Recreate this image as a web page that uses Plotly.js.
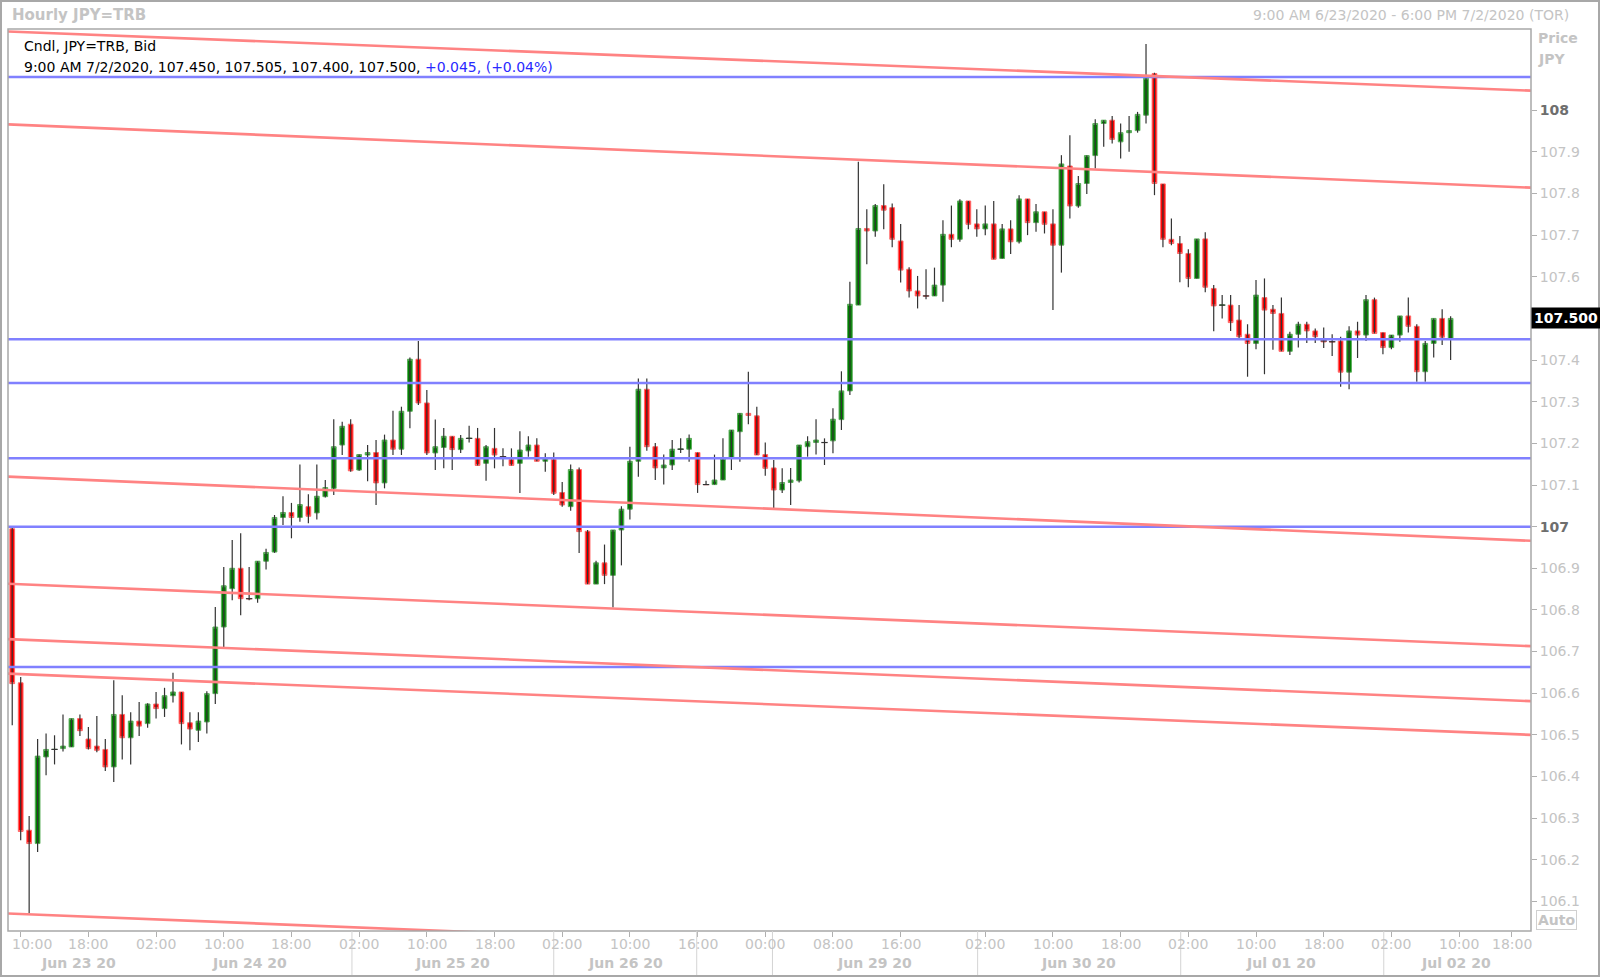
<!DOCTYPE html>
<html><head><meta charset="utf-8">
<script src="https://cdn.plot.ly/plotly-3.0.1.min.js"></script>
<style>html,body{margin:0;padding:0;background:#fff;}#chart{width:1600px;height:978px;}</style>
</head><body><div id="chart"></div>
<script>
// ---- Data (hourly JPY=TRB bid candles, 9:00 AM 6/23/2020 .. 9:00 AM 7/2/2020) ----
const openP = [106.995,106.625,106.271,106.239,106.447,106.465,106.467,106.471,106.539,106.490,
106.473,106.465,106.423,106.549,106.493,106.533,106.527,106.574,106.563,106.594,
106.603,106.529,106.511,106.531,106.599,106.759,106.851,106.900,106.827,106.827,
106.917,106.939,107.022,107.034,107.022,107.048,107.033,107.072,107.092,107.196,
107.246,107.136,107.172,107.178,107.105,107.208,107.186,107.277,107.402,107.297,
107.177,107.190,107.217,107.185,107.212,107.212,107.152,107.188,107.168,107.161,
107.152,107.182,107.196,107.157,107.161,107.082,107.048,107.137,106.989,106.862,
106.913,106.883,106.992,107.042,107.157,107.330,107.192,107.141,107.148,107.186,
107.186,107.178,107.101,107.101,107.112,107.164,107.228,107.272,107.266,107.173,
107.141,107.088,107.106,107.110,107.192,107.202,107.202,107.206,107.257,107.326,
107.532,107.716,107.710,107.771,107.766,107.686,107.618,107.566,107.554,107.554,
107.580,107.702,107.690,107.782,107.727,107.715,107.727,107.644,107.715,107.684,
107.787,107.730,107.756,107.727,107.676,107.866,107.770,107.824,107.891,107.968,
107.976,107.924,107.946,107.951,107.988,108.088,107.823,107.690,107.680,107.656,
107.596,107.691,107.572,107.532,107.532,107.496,107.462,107.440,107.550,107.522,
107.512,107.421,107.462,107.486,107.470,107.446,107.444,107.446,107.371,107.470,
107.460,107.545,107.466,107.430,107.460,107.506,107.481,107.372,107.440,107.500,
107.450];
const highP = [107.000,106.639,106.305,106.490,106.503,106.499,106.549,106.539,106.549,106.519,
106.545,106.490,106.631,106.595,106.554,106.579,106.576,106.603,106.613,106.649,
106.603,106.554,106.554,106.605,106.807,106.903,106.968,106.984,106.903,106.917,
106.947,107.028,107.073,107.057,107.149,107.078,107.149,107.112,107.258,107.252,
107.258,107.173,107.196,107.208,107.221,107.278,107.288,107.406,107.446,107.328,
107.257,107.237,107.217,107.220,107.242,107.237,107.196,107.237,107.188,107.188,
107.229,107.217,107.212,107.176,107.178,107.107,107.149,107.142,106.992,106.918,
106.957,106.992,107.049,107.192,107.356,107.356,107.201,107.173,107.208,107.212,
107.221,107.178,107.110,107.173,107.212,107.232,107.272,107.372,107.288,107.202,
107.160,107.140,107.141,107.196,107.217,107.258,107.212,107.284,107.373,107.588,
107.876,107.762,107.775,107.822,107.776,107.727,107.623,107.602,107.618,107.622,
107.736,107.771,107.786,107.782,107.762,107.771,107.782,107.727,107.736,107.796,
107.787,107.775,107.756,107.762,107.892,107.940,107.842,107.891,107.978,107.976,
107.986,107.968,107.986,107.996,108.159,108.090,107.823,107.740,107.698,107.666,
107.691,107.707,107.580,107.556,107.556,107.532,107.486,107.592,107.596,107.532,
107.550,107.468,107.492,107.492,107.476,107.478,107.462,107.456,107.481,107.492,
107.556,107.550,107.466,107.460,107.506,107.550,107.486,107.446,107.500,107.522,
107.505];
const lowP = [106.523,106.247,106.071,106.219,106.403,106.429,106.460,106.471,106.497,106.465,
106.458,106.413,106.387,106.441,106.429,106.497,106.517,106.539,106.543,106.578,
106.477,106.463,106.483,106.503,106.574,106.711,106.823,106.787,106.823,106.817,
106.897,106.937,107.004,106.972,107.012,107.008,107.017,107.070,107.076,107.172,
107.132,107.134,107.109,107.052,107.092,107.172,107.172,107.236,107.292,107.172,
107.136,107.140,107.136,107.177,107.202,107.147,107.110,107.140,107.145,107.147,
107.081,107.168,107.157,107.132,107.076,107.048,107.038,106.937,106.862,106.862,
106.862,106.806,106.907,107.017,107.120,107.182,107.112,107.101,107.136,107.177,
107.156,107.081,107.100,107.101,107.112,107.136,107.156,107.246,107.172,107.122,
107.044,107.081,107.052,107.106,107.168,107.173,107.148,107.176,107.232,107.316,
107.532,107.630,107.696,107.714,107.671,107.586,107.550,107.524,107.546,107.554,
107.540,107.671,107.684,107.714,107.696,107.700,107.642,107.644,107.655,107.680,
107.700,107.708,107.704,107.520,107.610,107.740,107.766,107.799,107.860,107.912,
107.920,107.884,107.900,107.946,107.968,107.796,107.671,107.676,107.587,107.575,
107.596,107.563,107.469,107.500,107.470,107.452,107.360,107.426,107.366,107.425,
107.421,107.412,107.430,107.441,107.441,107.429,107.410,107.336,107.330,107.405,
107.446,107.464,107.414,107.426,107.444,107.466,107.348,107.348,107.406,107.436,
107.400];
const closeP = [106.623,106.268,106.239,106.449,106.465,106.465,106.473,106.539,106.510,106.467,
106.463,106.423,106.549,106.493,106.533,106.521,106.574,106.563,106.594,106.603,
106.527,106.514,106.533,106.599,106.759,106.858,106.900,106.827,106.827,106.917,
106.938,107.022,107.034,107.022,107.053,107.025,107.073,107.094,107.192,107.241,
107.134,107.173,107.178,107.105,107.208,107.186,107.277,107.402,107.297,107.177,
107.192,107.217,107.185,107.212,107.212,107.147,107.192,107.172,107.168,107.147,
107.184,107.196,107.157,107.165,107.080,107.052,107.137,106.988,106.862,106.913,
106.883,106.992,107.042,107.157,107.330,107.192,107.141,107.148,107.186,107.186,
107.212,107.101,107.101,107.112,107.164,107.232,107.272,107.267,107.172,107.140,
107.088,107.106,107.112,107.196,107.204,107.208,107.202,107.258,107.326,107.534,
107.716,107.710,107.771,107.760,107.690,107.616,107.566,107.554,107.554,107.580,
107.702,107.690,107.782,107.726,107.715,107.727,107.642,107.715,107.684,107.787,
107.730,107.756,107.726,107.676,107.871,107.770,107.824,107.891,107.968,107.976,
107.930,107.946,107.951,107.990,108.077,107.824,107.690,107.680,107.656,107.596,
107.691,107.575,107.530,107.532,107.490,107.456,107.440,107.556,107.520,107.512,
107.421,107.462,107.486,107.470,107.456,107.444,107.444,107.371,107.470,107.460,
107.545,107.464,107.430,107.460,107.506,107.481,107.372,107.440,107.500,107.455,
107.500];

// horizontal support/resistance levels (blue) and parallel trend lines (red): start/end prices
const hLevels = [108.080, 107.450, 107.345, 107.164, 107.000, 106.663];
const trendStart = [108.189, 107.966, 107.120, 106.863, 106.730, 106.647, 106.071];
const trendEnd   = [108.047, 107.814, 106.966, 106.713, 106.581, 106.500, 105.925];

// time-axis labels (bar index -> label)
const tickIdx = [1, 9, 17, 25, 33, 41, 49, 57, 65, 73, 81, 89, 97, 105, 115, 123, 131, 139, 147, 155, 163, 171, 177.2];
const tickLbl = ["10:00","18:00","02:00","10:00","18:00","02:00","10:00","18:00","02:00","10:00","16:00",
                 "00:00","08:00","16:00","02:00","10:00","18:00","02:00","10:00","18:00","02:00","10:00","18:00"];
const dayLbl = ["Jun 23 20","Jun 24 20","Jun 25 20","Jun 26 20","Jun 29 20","Jun 30 20","Jul 01 20","Jul 02 20"];
const dayLblIdx = [7.8, 28.0, 52.0, 72.5, 101.9, 126.0, 150.0, 170.6];
const daySepIdx = [40.15, 64.0, 80.9, 89.85, 114.1, 138.1, 162.1];

const yTickVals = [106.1,106.2,106.3,106.4,106.5,106.6,106.7,106.8,106.9,107.0,
                   107.1,107.2,107.3,107.4,107.5,107.6,107.7,107.8,107.9,108.0];

// ---- Build ----
const X_LO = -0.5, X_HI = 179.5, Y_LO = 106.029, Y_HI = 108.195;
const idx = openP.map((_, i) => i);
const bodyHi = idx.map(i => Math.max(openP[i], closeP[i]));
const bodyLo = idx.map(i => Math.min(openP[i], closeP[i]));

const wx = [], wy = [];
idx.forEach(i => { wx.push(i, i, null); wy.push(lowP[i], highP[i], null); });
idx.forEach(i => {
  if (Math.abs(openP[i] - closeP[i]) < 0.002) { wx.push(i - 0.38, i + 0.38, null); wy.push(openP[i], openP[i], null); }
});

const traces = [];
traces.push({type:'scatter', mode:'lines', x:wx, y:wy, line:{color:'#333333', width:1.2}, hoverinfo:'skip', showlegend:false});
traces.push({type:'candlestick', x:idx, open:openP, close:closeP, high:bodyHi, low:bodyLo,
  increasing:{line:{color:'#5cae5c', width:1}, fillcolor:'#008000'},
  decreasing:{line:{color:'#ff6a6a', width:1}, fillcolor:'#ff0000'},
  whiskerwidth:0, hoverinfo:'skip', showlegend:false});
hLevels.forEach(v => traces.push({type:'scatter', mode:'lines', x:[X_LO, X_HI], y:[v, v],
  line:{color:'#8080ff', width:2.5}, hoverinfo:'skip', showlegend:false}));
trendStart.forEach((v, k) => traces.push({type:'scatter', mode:'lines', x:[X_LO, X_HI], y:[v, trendEnd[k]],
  line:{color:'#ff8383', width:2.6}, hoverinfo:'skip', showlegend:false}));

const FONT = "'DejaVu Sans', Verdana, sans-serif";
const GREY = '#c4c4c4';
const px2x = p => (p - 8) / 1523;
const py2y = p => (931 - p) / 902;

const n = closeP.length;
const lastClose = closeP[n-1];
const chg = closeP[n-1] - closeP[n-2];
const pct = chg / closeP[n-2] * 100;
const sgn = v => (v >= 0 ? '+' : '');
const legendLine2 = '9:00 AM 7/2/2020, ' + [openP[n-1], highP[n-1], lowP[n-1], closeP[n-1]].map(v => v.toFixed(3)).join(', ') + ', ' +
  '<span style="color:#2929ff">' + sgn(chg) + chg.toFixed(3) + ', (' + sgn(pct) + pct.toFixed(2) + '%)</span>';

const annotations = [
  {xref:'paper', yref:'paper', x:px2x(10), y:py2y(15), xanchor:'left', yanchor:'middle', showarrow:false,
   text:'<b>Hourly JPY=TRB</b>', font:{family:FONT, size:15, color:GREY}},
  {xref:'paper', yref:'paper', x:px2x(1571), y:py2y(15), xanchor:'right', yanchor:'middle', showarrow:false,
   text:'9:00 AM 6/23/2020 - 6:00 PM 7/2/2020 (TOR)', font:{family:FONT, size:14, color:GREY}},
  {xref:'paper', yref:'paper', x:px2x(1536), y:py2y(38), xanchor:'left', yanchor:'middle', showarrow:false,
   text:'<b>Price</b>', font:{family:FONT, size:14, color:GREY}},
  {xref:'paper', yref:'paper', x:px2x(1536), y:py2y(59), xanchor:'left', yanchor:'middle', showarrow:false,
   text:'<b>JPY</b>', font:{family:FONT, size:14, color:GREY}},
  {xref:'paper', yref:'paper', x:px2x(22), y:py2y(46), xanchor:'left', yanchor:'middle', showarrow:false,
   text:'Cndl, JPY=TRB, Bid', font:{family:FONT, size:14, color:'#000'}},
  {xref:'paper', yref:'paper', x:px2x(22), y:py2y(67), xanchor:'left', yanchor:'middle', showarrow:false,
   text:legendLine2, font:{family:FONT, size:14, color:'#000'}},
  {xref:'paper', yref:'y', x:1, y:lastClose, xanchor:'left', yanchor:'middle', showarrow:false,
   text:'<b>' + lastClose.toFixed(3) + '</b>', bgcolor:'#000', borderpad:2,
   font:{family:FONT, size:14, color:'#fff'}},
  {xref:'paper', yref:'paper', x:px2x(1556), y:py2y(920), xanchor:'center', yanchor:'middle', showarrow:false,
   text:'<b>Auto</b>', bordercolor:'#d0d0d0', borderwidth:1, borderpad:1, font:{family:FONT, size:14, color:GREY}}
];
tickLbl.forEach((t, k) => {
  const first = (k === 0); // first label is kept inside the plot's left edge
  annotations.push({xref: first ? 'paper' : 'x', yref:'paper', x: first ? px2x(10) : tickIdx[k], y:py2y(944),
    xanchor: first ? 'left' : 'center', yanchor:'middle', showarrow:false, text:t, font:{family:FONT, size:14, color:GREY}});
});
dayLbl.forEach((t, k) => annotations.push({xref:'x', yref:'paper', x:dayLblIdx[k], y:py2y(963), xanchor:'center', yanchor:'middle',
  showarrow:false, text:'<b>' + t + '</b>', font:{family:FONT, size:14, color:GREY}}));

const shapes = [
  {type:'rect', xref:'paper', yref:'paper', x0:0, x1:1, y0:0, y1:1, line:{color:'#a8a8a8', width:1.5}, layer:'above'},
  {type:'rect', xref:'paper', yref:'paper', x0:px2x(1), x1:px2x(1599), y0:py2y(1), y1:py2y(976), line:{color:'#a8a8a8', width:2}, layer:'above'}
];
daySepIdx.forEach(v => shapes.push({type:'line', xref:'x', yref:'paper', x0:v, x1:v, y0:0, y1:py2y(975),
  line:{color:'#d4d4d4', width:1}}));

// the current-price box covers the tick label it sits on
const yTickTxt = yTickVals.map(v => {
  if (Math.abs(v - lastClose) < 0.05) return '';
  return (Math.abs(v - Math.round(v)) < 1e-9)
    ? '<b><span style="color:#6e6e6e">' + Math.round(v) + '</span></b>' : v.toFixed(1);
});

const layout = {
  width:1600, height:978,
  margin:{l:8, r:69, t:29, b:47, pad:0},
  paper_bgcolor:'#fff', plot_bgcolor:'#fff',
  showlegend:false,
  boxgap:0.2,
  xaxis:{range:[X_LO, X_HI], type:'linear', showgrid:false, zeroline:false, showline:false,
    rangeslider:{visible:false}, tickmode:'array', tickvals:tickIdx, showticklabels:false,
    ticks:'outside', ticklen:5, tickcolor:'#b0b0b0', fixedrange:true},
  yaxis:{range:[Y_LO, Y_HI], side:'right', showgrid:false, zeroline:false, showline:false,
    tickmode:'array', tickvals:yTickVals, ticktext:yTickTxt,
    ticks:'outside', ticklen:5, tickcolor:'#b0b0b0', tickfont:{family:FONT, size:14, color:GREY}, fixedrange:true},
  annotations:annotations,
  shapes:shapes
};

Plotly.newPlot('chart', traces, layout, {staticPlot:true, displayModeBar:false});
</script>
</body></html>
